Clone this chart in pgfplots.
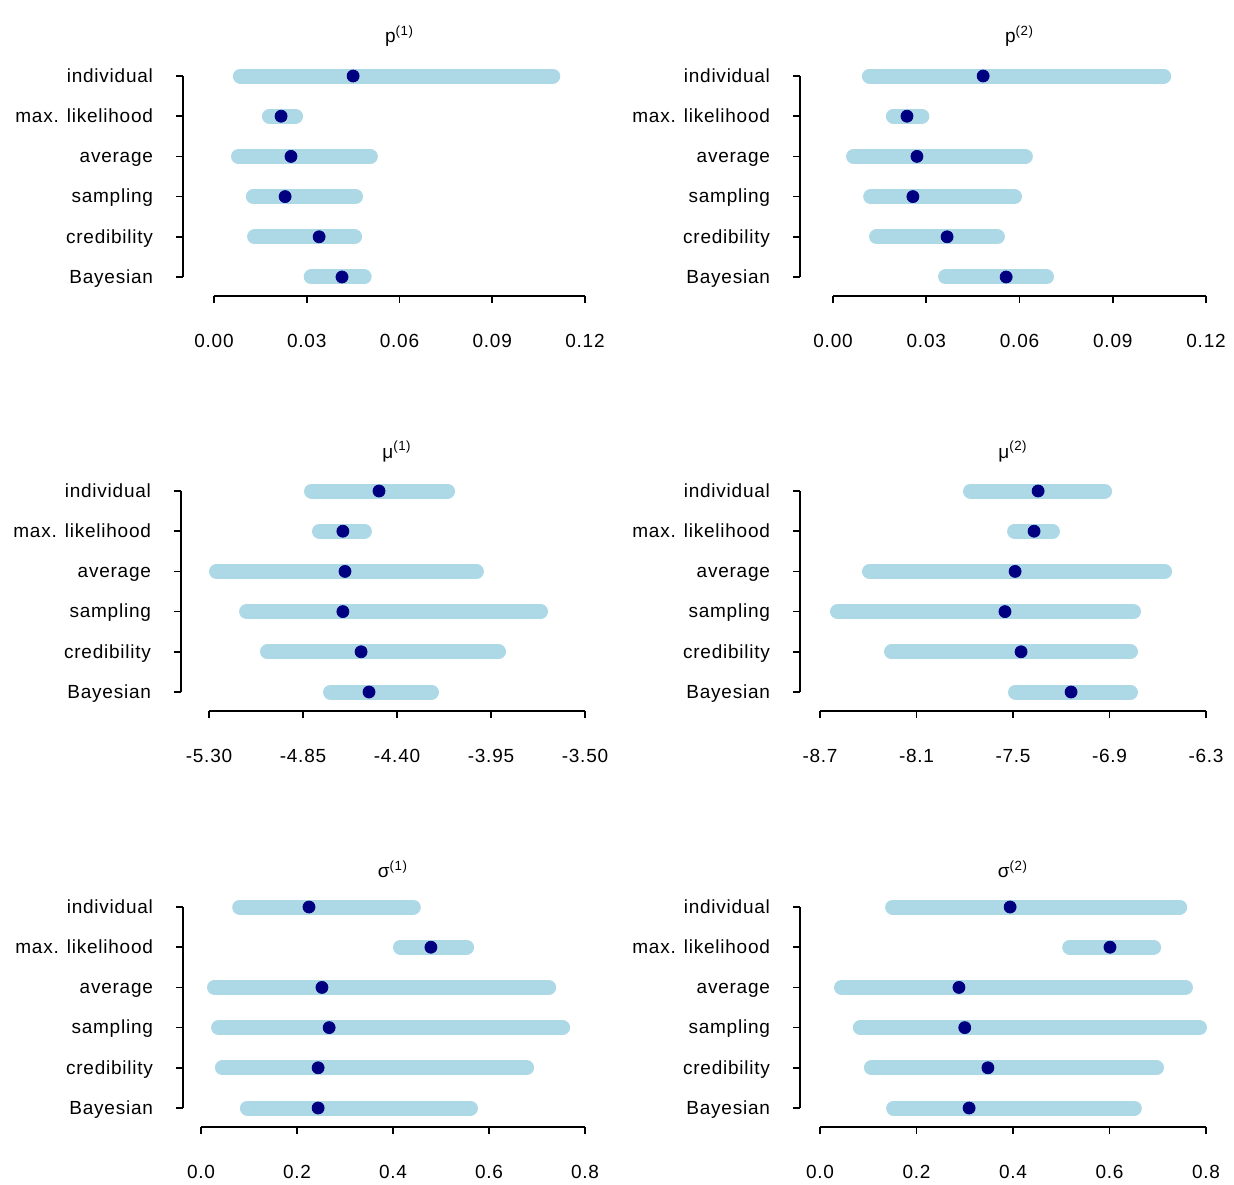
\documentclass[border=0pt]{standalone}
\usepackage{fontspec}
\setmainfont{Liberation Sans}[LetterSpace=4]
\usepackage{pgfplots}
\pgfplotsset{compat=1.18}
\definecolor{lb}{RGB}{173,216,230}
\definecolor{nv}{RGB}{0,0,128}
\newcommand\iv[4]{%
\addplot[lb,line width=7.5pt,line cap=round,shorten <=3.75pt,shorten >=3.75pt] coordinates {(#2,#1) (#3,#1)};
\addplot[nv,only marks,mark=*,mark size=3pt] coordinates {(#4,#1)};}
\pgfplotsset{rstyle/.style={scale only axis,height=100.5pt,ymin=1,ymax=6,y dir=reverse,
 clip=false, axis lines=left, separate axis lines, axis x line shift=9.5pt, axis y line shift=15.5pt,
 axis line style={-,line width=0.8pt}, tick style={line width=0.8pt,black}, tick align=outside, major tick length=3.5pt,
 ytick={1,...,6}, yticklabels={individual,max. likelihood,average,sampling,credibility,Bayesian},
 tick label style={font=\fontsize{9.5}{10}\selectfont},
 /pgf/number format/assume math mode=true,
 xticklabel style={yshift=-12pt,/pgf/number format/fixed,/pgf/number format/fixed zerofill},
 yticklabel style={anchor=east,text height=1.6ex,text depth=0.4ex,xshift=-8pt},
 title style={at={(axis description cs:0.5,1)},anchor=south,yshift=5pt,font=\fontsize{9.5}{10}\selectfont},
 anchor=south west}}
\begin{document}
\begin{tikzpicture}
\path[use as bounding box] (0,0) rectangle (617pt,592pt);
% row 1
\begin{axis}[rstyle,at={(107pt,453.5pt)},width=185.5pt,xmin=0,xmax=0.12,xtick={0,0.03,...,0.12},
 xticklabel style={/pgf/number format/precision=2},title={p\textsuperscript{(1)}}]
\iv{1}{0.0061}{0.112}{0.045}
\iv{2}{0.0155}{0.0288}{0.0217}
\iv{3}{0.0055}{0.053}{0.0249}
\iv{4}{0.0103}{0.0482}{0.023}
\iv{5}{0.0107}{0.0479}{0.034}
\iv{6}{0.029}{0.051}{0.0414}
\end{axis}
\begin{axis}[rstyle,at={(416.5pt,453.5pt)},width=186.5pt,xmin=0,xmax=0.12,xtick={0,0.03,...,0.12},
 axis y line shift=16.5pt,
 xticklabel style={/pgf/number format/precision=2},title={p\textsuperscript{(2)}}]
\iv{1}{0.0093}{0.1088}{0.0483}
\iv{2}{0.017}{0.031}{0.0238}
\iv{3}{0.0042}{0.0643}{0.027}
\iv{4}{0.0097}{0.0608}{0.0257}
\iv{5}{0.0116}{0.0553}{0.0367}
\iv{6}{0.0338}{0.0711}{0.0557}
\end{axis}
% row 2
\begin{axis}[rstyle,at={(104.5pt,246pt)},width=188pt,xmin=-5.3,xmax=-3.5,xtick={-5.3,-4.85,-4.4,-3.95,-3.5},
 axis y line shift=14pt,
 xticklabel style={/pgf/number format/precision=2},title={μ\textsuperscript{(1)}}]
\iv{1}{-4.845}{-4.122}{-4.486}
\iv{2}{-4.807}{-4.52}{-4.659}
\iv{3}{-5.30}{-3.984}{-4.649}
\iv{4}{-5.156}{-3.677}{-4.659}
\iv{5}{-5.056}{-3.878}{-4.572}
\iv{6}{-4.754}{-4.199}{-4.534}
\end{axis}
\begin{axis}[rstyle,at={(410pt,246pt)},width=193pt,xmin=-8.7,xmax=-6.3,xtick={-8.7,-8.1,-7.5,-6.9,-6.3},
 axis y line shift=10pt,
 xticklabel style={/pgf/number format/precision=1},title={μ\textsuperscript{(2)}}]
\iv{1}{-7.811}{-6.884}{-7.344}
\iv{2}{-7.537}{-7.208}{-7.369}
\iv{3}{-8.439}{-6.511}{-7.487}
\iv{4}{-8.638}{-6.704}{-7.55}
\iv{5}{-8.302}{-6.723}{-7.45}
\iv{6}{-7.531}{-6.723}{-7.139}
\end{axis}
% row 3
\begin{axis}[rstyle,at={(100.5pt,38pt)},width=192pt,xmin=0,xmax=0.8,xtick={0,0.2,...,0.8},
 axis y line shift=9pt,
 xticklabel style={/pgf/number format/precision=1},title={σ\textsuperscript{(1)}}]
\iv{1}{0.065}{0.458}{0.225}
\iv{2}{0.4}{0.569}{0.479}
\iv{3}{0.0125}{0.74}{0.252}
\iv{4}{0.021}{0.769}{0.267}
\iv{5}{0.029}{0.694}{0.244}
\iv{6}{0.081}{0.577}{0.244}
\end{axis}
\begin{axis}[rstyle,at={(410pt,38pt)},width=193pt,xmin=0,xmax=0.8,xtick={0,0.2,...,0.8},
 axis y line shift=10pt,
 xticklabel style={/pgf/number format/precision=1},title={σ\textsuperscript{(2)}}]
\iv{1}{0.135}{0.761}{0.394}
\iv{2}{0.502}{0.707}{0.601}
\iv{3}{0.029}{0.773}{0.288}
\iv{4}{0.068}{0.802}{0.3}
\iv{5}{0.091}{0.713}{0.348}
\iv{6}{0.137}{0.667}{0.309}
\end{axis}
\end{tikzpicture}
\end{document}
